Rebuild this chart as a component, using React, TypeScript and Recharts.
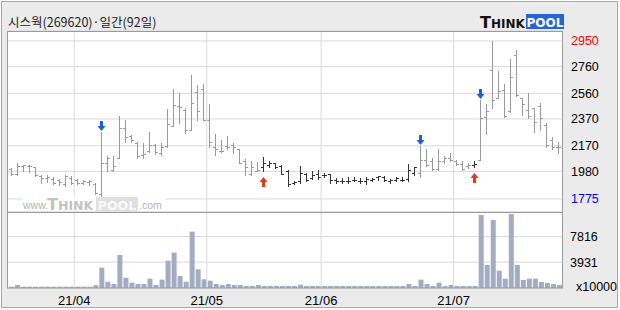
import React from "react";
import { ComposedChart, Bar, XAxis, YAxis, CartesianGrid, ReferenceLine } from "recharts";

const title = "시스웍(269620)·일간(92일)";
const monthLabels = ["21/04", "21/05", "21/06", "21/07"];
const monthStarts = [11, 33, 52, 74];
const priceTicks = [1775, 1980, 2170, 2370, 2560, 2760, 2950];
const volumeTicks = [0, 3931, 7816];
const volumeUnit = "x10000";

// daily OHLC, 92 sessions (2021-03-16 .. 2021-07-26)
const opens = [
  2000, 1960, 2020, 2020, 2015, 1945, 1930, 1925, 1915, 1885, 1930,
  1915, 1895, 1900, 1885, 1810, 2045, 1990, 2080, 2300, 2245, 2190, 2100, 2130, 2175, 2115, 2170, 2320, 2465, 2435, 2290, 2570, 2590,
  2365, 2165, 2130, 2170, 2175, 2145, 2055, 1960, 1985, 2010, 2030, 2040, 2020, 1985, 1895, 1905, 1960, 1930, 1960,
  1950, 1960, 1915, 1910, 1910, 1915, 1910, 1905, 1915, 1935, 1940, 1905, 1915, 1915, 1920, 1970, 1970, 2065, 2055, 1995, 2055, 2080,
  2060, 2035, 2020, 2030, 2065, 2385, 2735, 2525, 2585, 2430, 2845, 2525, 2440, 2450, 2465, 2325, 2210, 2160,
];
const highs = [
  2005, 2045, 2030, 2030, 2015, 1955, 1955, 1940, 1925, 1955, 1945,
  1925, 1915, 1915, 1890, 2275, 2095, 2095, 2390, 2365, 2250, 2200, 2190, 2275, 2185, 2190, 2445, 2590, 2565, 2450, 2700, 2625, 2630,
  2480, 2260, 2215, 2245, 2190, 2145, 2070, 2055, 2050, 2085, 2060, 2045, 2030, 1990, 1905, 2020, 1965, 1980, 1990,
  1970, 1960, 1930, 1930, 1940, 1940, 1930, 1940, 1930, 1945, 1945, 1920, 1940, 1940, 2035, 2015, 2170, 2150, 2080, 2150, 2095, 2120,
  2065, 2055, 2040, 2055, 2510, 2480, 2950, 2730, 2630, 2815, 2880, 2525, 2565, 2450, 2485, 2340, 2235, 2200,
];
const lows = [
  1955, 1955, 1985, 1975, 1945, 1895, 1900, 1885, 1880, 1870, 1885,
  1885, 1885, 1880, 1810, 1775, 1980, 1985, 2080, 2195, 2195, 2080, 2080, 2125, 2110, 2100, 2165, 2315, 2340, 2265, 2290, 2360, 2360,
  2165, 2100, 2125, 2145, 2115, 2045, 1955, 1955, 1980, 1985, 2010, 2005, 1960, 1870, 1885, 1895, 1910, 1920, 1920,
  1940, 1895, 1895, 1890, 1895, 1905, 1895, 1885, 1905, 1915, 1905, 1895, 1910, 1910, 1905, 1955, 1940, 2020, 1990, 1990, 2045, 2055,
  2030, 1990, 2005, 2010, 2065, 2260, 2450, 2525, 2385, 2425, 2540, 2400, 2375, 2275, 2290, 2160, 2150, 2120,
];
const closes = [
  1960, 2020, 2025, 2020, 1955, 1930, 1940, 1895, 1900, 1945, 1895,
  1895, 1910, 1910, 1820, 2045, 2080, 2020, 2300, 2235, 2215, 2095, 2110, 2175, 2125, 2165, 2335, 2475, 2460, 2290, 2485, 2430, 2365,
  2200, 2150, 2130, 2160, 2165, 2045, 2010, 2015, 1990, 2040, 2040, 2010, 1960, 1885, 1900, 1965, 1915, 1955, 1940,
  1950, 1915, 1910, 1910, 1905, 1915, 1905, 1920, 1920, 1945, 1915, 1915, 1930, 1915, 1990, 2010, 2065, 2030, 1995, 2055, 2080, 2065,
  2035, 1995, 2030, 2035, 2375, 2430, 2510, 2575, 2395, 2680, 2550, 2480, 2390, 2345, 2375, 2175, 2165, 2165,
];
// volume, x10000 shares
const volumes = [
  200, 450, 200, 200, 200, 200, 200, 200, 200, 200, 200,
  200, 200, 200, 450, 3090, 960, 610, 5020, 1570, 810, 610, 610, 1420, 460, 1270, 4150, 5370, 1820, 960, 8560, 2840, 1320,
  1110, 610, 460, 610, 460, 460, 300, 300, 460, 300, 300, 300, 300, 300, 300, 500, 300, 300, 300,
  300, 300, 300, 300, 300, 300, 300, 300, 300, 300, 300, 300, 300, 300, 610, 300, 1270, 610, 300, 810, 300, 460,
  300, 300, 300, 300, 11100, 3500, 10340, 2630, 1420, 11250, 3500, 1220, 1420, 1420, 910, 760, 610, 460,
];
const buySignals = [42, 77];
const sellSignals = [15, 68, 78];

const priceMax = Math.max(...highs);
const priceMin = Math.min(...lows);

const rows = opens.map((open, i) => {
  let held = false;
  for (let k = 0; k <= i; k++) {
    if (buySignals.includes(k)) held = true;
    if (sellSignals.includes(k)) held = false;
  }
  return {
    i,
    open,
    high: highs[i],
    low: lows[i],
    close: closes[i],
    volume: volumes[i],
    range: [lows[i], highs[i]],
    signal: buySignals.includes(i) ? "buy" : sellSignals.includes(i) ? "sell" : null,
    held,
  };
});

const gridColor = "#d9d9d9";
const axisFont = "'Liberation Sans', Arial, sans-serif";

function OhlcShape(props: any) {
  const { x, y, width, height, payload } = props;
  const top = Math.min(y, y + height);
  const bottom = Math.max(y, y + height);
  const span = payload.high - payload.low;
  const toY = (v: number) => (span === 0 ? top : top + ((payload.high - v) / span) * (bottom - top));
  const cx = Math.floor(x + width / 2) + 0.5;
  const color = payload.held ? "#333333" : "#999999";
  const yo = Math.round(toY(payload.open)) + 0.5;
  const yc = Math.round(toY(payload.close)) + 0.5;
  const t = Math.round(top);
  const b = Math.round(bottom);
  return (
    <g>
      <line x1={cx} x2={cx} y1={t} y2={b + 1} stroke={color} />
      <line x1={cx - 2.5} x2={cx} y1={yo} y2={yo} stroke={color} />
      <line x1={cx} x2={cx + 2.5} y1={yc} y2={yc} stroke={color} />
      {payload.signal === "sell" && (
        <path
          d={`M${cx - 1.5},${t - 11} h3 v5 h2.5 l-4,5 l-4,-5 h2.5 z`}
          fill="#1a5fe0"
        />
      )}
      {payload.signal === "buy" && (
        <path
          d={`M${cx},${b + 6} l4,5 h-2.5 v5 h-3 v-5 h-2.5 z`}
          fill="#e63a10"
        />
      )}
    </g>
  );
}

function PriceTick(props: any) {
  const { x, y, payload } = props;
  const v = payload.value;
  const fill = v === priceMax ? "#ff0000" : v === priceMin ? "#0000ff" : "#000000";
  return (
    <text x={x} y={y} dy={4.5} textAnchor="start" fontSize={12.5} fontFamily={axisFont} fill={fill}>
      {v}
    </text>
  );
}

function VolumeTick(props: any) {
  const { x, y, payload } = props;
  const v = payload.value;
  return (
    <text x={v === 0 ? x + 6 : x} y={v === 0 ? y - 2 : y} dy={4.5} textAnchor="start" fontSize={12.5} fontFamily={axisFont} fill="#000">
      {v === 0 ? volumeUnit : v}
    </text>
  );
}

function DateTick(props: any) {
  const { x, payload } = props;
  const idx = monthStarts.indexOf(payload.value + 0.5);
  return (
    <text x={x} y={305} textAnchor="middle" fontSize={13} fontFamily={axisFont} fill="#000">
      {monthLabels[idx]}
    </text>
  );
}

export default function App() {
  const boundaries = monthStarts.map((m) => m - 0.5);
  return (
    <div style={{ position: "relative", width: 620, height: 310, background: "#fff", overflow: "hidden" }}>
      <style>{`body{margin:0}`}</style>
      <svg width={620} height={310} style={{ position: "absolute", left: 0, top: 0 }}>
        <rect x={1.5} y={1.5} width={616} height={306} fill="#ebebeb" stroke="#a8a8a8" />
        <rect x={8} y={32} width={554} height={256} fill="#ffffff" />
      </svg>

      <div style={{ position: "absolute", left: 0, top: 0 }}>
        <ComposedChart width={620} height={310} data={rows} margin={{ top: 31, right: 8, bottom: 98, left: 8 }}>
          <CartesianGrid vertical={false} stroke={gridColor} />
          <XAxis dataKey="i" type="number" domain={[-0.5, 91.5]} allowDataOverflow hide />
          <YAxis
            orientation="right"
            width={50}
            type="number"
            domain={[1678, 3024]}
            allowDataOverflow
            ticks={priceTicks}
            interval={0}
            axisLine={false}
            tickLine={false}
            tickSize={0}
            tickMargin={9}
            tick={<PriceTick />}
          />
          {boundaries.map((b) => (
            <ReferenceLine key={b} x={b} stroke={gridColor} />
          ))}
          <Bar dataKey="range" barSize={6} shape={<OhlcShape />} isAnimationActive={false} />
        </ComposedChart>
      </div>

      <div style={{ position: "absolute", left: 0, top: 0 }}>
        <ComposedChart width={620} height={310} data={rows} margin={{ top: 212, right: 8, bottom: 0, left: 8 }}>
          <CartesianGrid vertical={false} stroke={gridColor} />
          <XAxis
            dataKey="i"
            type="number"
            domain={[-0.5, 91.5]}
            allowDataOverflow
            ticks={boundaries}
            interval={0}
            height={22}
            axisLine={false}
            tickLine={false}
            tick={<DateTick />}
          />
          <YAxis
            orientation="right"
            width={50}
            type="number"
            domain={[0, 11550]}
            allowDataOverflow
            ticks={volumeTicks}
            interval={0}
            axisLine={false}
            tickLine={false}
            tickSize={0}
            tickMargin={8}
            tick={<VolumeTick />}
          />
          {boundaries.map((b) => (
            <ReferenceLine key={b} x={b} stroke={gridColor} />
          ))}
          <Bar dataKey="volume" barSize={5} fill="#a3acc3" isAnimationActive={false} />
        </ComposedChart>
      </div>

      <svg width={620} height={310} style={{ position: "absolute", left: 0, top: 0, pointerEvents: "none" }}>
        <rect x={7.5} y={31.5} width={555} height={256.5} fill="none" stroke="#9a9a9a" />
        <line x1={7} x2={563} y1={212.5} y2={212.5} stroke="#9a9a9a" />

        <text x={8} y={27} fontSize={12.5} fontFamily="'Noto Sans CJK KR', sans-serif" fill="#222">
          {title}
        </text>

        <text x={480} y={28} fontFamily="'DejaVu Sans', sans-serif" fontWeight="bold" fill="#111">
          <tspan fontSize={16}>T</tspan>
          <tspan fontSize={12}>HINK</tspan>
        </text>
        <rect x={526} y={14} width={38} height={15} fill="#2563d8" />
        <text x={545} y={27} textAnchor="middle" fontSize={12} fontWeight="bold" fontFamily="'DejaVu Sans', sans-serif" fill="#fff">
          POOL
        </text>

        <rect x={22} y={197} width={143} height={14} fill="#fff" />
        <text x={23} y={208.5} fontSize={10.5} fontFamily={axisFont} fill="#b3b3b3">www.</text>
        <text x={47} y={210} fontFamily="'DejaVu Sans', sans-serif" fontWeight="bold" fill="#c2c2c2">
          <tspan fontSize={16}>T</tspan>
          <tspan fontSize={12.5}>HINK</tspan>
        </text>
        <rect x={96} y={197} width={42} height={14} fill="#e0e0e0" />
        <text x={117} y={209.5} textAnchor="middle" fontSize={12.5} fontWeight="bold" fontFamily="'DejaVu Sans', sans-serif" fill="#fafafa">
          POOL
        </text>
        <text x={139} y={208.5} fontSize={10.5} fontFamily={axisFont} fill="#b3b3b3">.com</text>
      </svg>
    </div>
  );
}
